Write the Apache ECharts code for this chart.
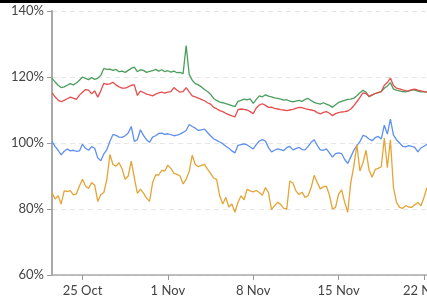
<!DOCTYPE html>
<html>
<head>
<meta charset="utf-8">
<script src="https://cdn.jsdelivr.net/npm/echarts@6/dist/echarts.min.js"></script>
<style>
html,body{margin:0;padding:0;background:#fff;}
#chart{width:427px;height:303px;}
#topbar{position:absolute;left:0;top:0;width:427px;height:3px;background:#000;}
</style>
</head>
<body>
<div id="chart"></div>
<div id="topbar"></div>
<script>
// readings every 6 hours, starting 22 Oct 12:00
var startDate = new Date(2021, 9, 22, 12, 0);
var stepHours = 6;
var months = ['Jan','Feb','Mar','Apr','May','Jun','Jul','Aug','Sep','Oct','Nov','Dec'];

var green = [119.6,118.5,117.5,116.8,117.0,117.5,118.0,117.6,118.2,119.0,
  120.0,119.6,119.2,119.8,119.3,119.6,120.5,122.6,122.3,122.4,
  122.0,122.3,121.6,121.8,121.4,122.0,122.6,123.0,121.6,122.2,
  122.0,121.4,121.7,121.9,122.3,121.8,122.2,121.6,121.9,121.5,
  121.8,121.3,121.4,121.0,129.5,120.8,119.0,118.0,117.6,117.0,
  116.2,115.6,114.8,113.5,112.9,112.4,112.2,111.9,111.6,111.3,
  111.0,112.6,112.9,113.3,113.1,113.4,112.0,113.2,114.3,114.0,
  114.6,114.2,114.0,113.7,113.5,113.3,113.0,113.1,112.7,112.5,
  112.7,112.9,112.6,113.2,113.5,112.9,112.3,112.0,111.8,112.2,
  111.8,111.4,110.8,111.6,112.3,112.6,112.9,113.2,113.3,113.6,
  114.3,115.2,116.0,115.4,114.0,114.5,115.0,115.3,115.6,116.6,
  117.3,118.3,116.3,116.0,115.8,115.6,115.5,115.7,116.0,116.0,
  115.7,115.5,115.6,115.4];

var red = [115.2,114.0,113.0,112.5,112.9,113.4,113.9,113.6,113.2,114.5,
  115.4,116.2,116.0,114.9,115.8,113.9,115.8,118.1,117.8,117.9,
  118.4,117.6,117.0,116.6,116.6,117.0,117.5,117.6,114.4,115.7,
  115.3,114.8,114.6,114.3,114.8,115.2,115.4,115.1,115.4,115.6,
  116.8,116.0,115.4,115.6,116.8,115.5,114.3,114.0,113.6,113.2,
  112.8,112.2,111.8,110.8,110.4,109.8,109.5,109.0,108.6,108.2,
  107.9,110.1,110.3,110.2,110.0,109.5,108.9,110.6,111.5,111.9,
  111.4,110.8,110.9,110.5,110.3,110.1,110.0,109.8,110.0,110.2,
  110.5,110.8,110.7,110.4,110.2,110.0,109.8,109.2,108.8,109.3,
  109.5,109.0,108.3,108.9,109.2,109.4,109.5,109.7,110.3,111.3,
  112.5,113.8,115.2,115.0,114.2,114.6,115.0,115.3,115.6,117.5,
  118.3,119.7,117.4,116.6,116.4,116.1,115.9,115.8,116.2,116.3,
  116.0,115.8,115.6,115.4];

var blue = [100.5,99.0,97.8,96.4,97.5,98.2,97.6,97.8,97.5,97.6,
  99.6,98.4,97.8,98.9,98.4,95.5,94.6,96.7,98.0,100.5,
  102.6,102.3,101.8,101.7,102.2,103.0,105.0,100.5,101.0,104.0,
  102.3,101.0,100.2,101.8,102.2,102.9,103.0,102.6,102.8,102.5,
  102.2,102.4,102.7,103.2,103.8,105.6,105.0,104.5,103.8,104.0,
  104.2,103.2,102.2,101.3,100.8,100.3,99.8,99.0,98.4,97.6,
  97.0,99.3,99.5,99.7,99.4,98.8,98.2,99.5,100.6,101.0,
  100.6,98.6,97.3,97.8,98.2,98.0,97.7,98.6,99.0,97.9,
  98.3,98.7,98.0,97.9,99.0,100.2,101.0,99.3,97.9,97.8,
  98.2,97.0,95.7,96.8,97.0,96.8,95.0,93.8,95.8,97.8,
  99.2,100.4,102.3,102.0,101.2,100.7,101.6,102.0,101.2,105.4,
  102.7,107.2,102.4,101.0,100.0,99.0,98.8,99.2,99.0,98.7,
  97.3,98.5,99.0,99.6];

var orange = [85.0,83.0,84.0,81.5,85.5,85.3,85.6,84.3,84.6,87.0,
  89.0,87.0,86.2,88.0,87.2,82.3,84.3,85.0,89.0,96.5,
  93.5,93.0,94.0,92.1,89.0,90.0,94.5,89.5,84.7,86.0,
  84.8,83.3,82.3,88.0,90.3,90.3,91.7,91.5,93.3,92.3,
  90.8,90.5,90.0,87.6,89.0,91.4,96.3,93.5,92.8,93.2,
  93.5,92.1,90.8,89.4,89.0,84.0,81.5,83.5,80.6,81.5,
  79.0,82.0,84.0,82.8,86.0,85.5,85.2,85.6,85.0,84.2,
  86.5,85.0,79.8,81.0,82.0,81.4,80.2,80.0,88.5,87.9,
  85.5,84.4,85.1,83.5,84.0,86.5,90.2,88.0,86.1,86.7,
  86.9,84.2,80.0,80.5,84.5,85.8,82.0,79.0,88.0,93.0,
  99.5,91.5,94.0,97.8,91.8,89.6,92.0,92.3,92.8,101.5,
  92.5,101.0,86.5,82.0,80.5,80.2,81.0,80.6,80.5,81.3,
  82.0,81.0,83.5,86.5];

var colors = ['#4c9e5c', '#e54f4f', '#5f8ff0', '#e5a435'];

// category labels, one per reading
var categories = [];
for (var i = 0; i < green.length; i++) {
  var d = new Date(startDate.getTime() + i * stepHours * 3600 * 1000);
  categories.push(d.getDate() + ' ' + months[d.getMonth()]);
}
// weekly ticks from 25 Oct 00:00 (index 10)
function weekly(idx) {
  return idx >= 10 && (idx - 10) % 28 === 0;
}

function line(data, color) {
  return {
    type: 'line',
    data: data,
    showSymbol: false,
    symbol: 'none',
    lineStyle: { color: color, width: 1.3 },
    itemStyle: { color: color },
    animation: false
  };
}

var chart = echarts.init(document.getElementById('chart'));
chart.setOption({
  animation: false,
  grid: { left: 52, right: 0, top: 11, bottom: 28, containLabel: false, outerBoundsMode: 'none' },
  xAxis: {
    type: 'category',
    data: categories,
    boundaryGap: false,
    axisLine: { lineStyle: { color: '#aaa', width: 1.5 } },
    axisTick: { interval: weekly, length: 5, lineStyle: { color: '#999' } },
    axisLabel: {
      interval: weekly,
      color: '#444',
      fontFamily: 'Lato',
      fontSize: 13,
      margin: 9,
      hideOverlap: false
    },
    splitLine: { show: false }
  },
  yAxis: {
    type: 'value',
    min: 60,
    max: 140,
    interval: 20,
    axisLine: { show: true, lineStyle: { color: '#aaa', width: 2 } },
    axisTick: { show: true, length: 5, lineStyle: { color: '#999' } },
    axisLabel: {
      formatter: '{value}%',
      color: '#444',
      fontFamily: 'Lato',
      fontSize: 13,
      margin: 8
    },
    splitLine: { lineStyle: { color: '#e6e6e6', type: [5, 4] } }
  },
  series: [
    line(green, colors[0]),
    line(red, colors[1]),
    line(blue, colors[2]),
    line(orange, colors[3])
  ]
});
</script>
</body>
</html>
